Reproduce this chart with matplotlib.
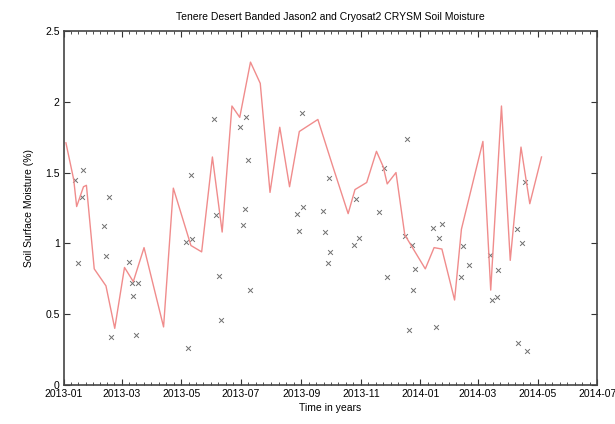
import numpy as np
import pandas as pd
import matplotlib
matplotlib.use('Agg')
import matplotlib.pyplot as plt
import matplotlib.dates as mdates

plt.rcParams['font.family'] = ['Liberation Sans', 'DejaVu Sans']

# Jason2 banded soil moisture (line)
line_dates = ['2013-01-03', '2013-01-07', '2013-01-11', '2013-01-14', '2013-01-18', '2013-01-21',
              '2013-01-24', '2013-02-01', '2013-02-13', '2013-02-22', '2013-03-04', '2013-03-13',
              '2013-03-24', '2013-04-13', '2013-04-23', '2013-05-11', '2013-05-22', '2013-06-02',
              '2013-06-12', '2013-06-22', '2013-06-30', '2013-07-11', '2013-07-21', '2013-07-31',
              '2013-08-10', '2013-08-20', '2013-08-30', '2013-09-18', '2013-10-03', '2013-10-19',
              '2013-10-26', '2013-11-07', '2013-11-17', '2013-11-24', '2013-11-28', '2013-12-07',
              '2013-12-16', '2014-01-06', '2014-01-15', '2014-01-23', '2014-02-05', '2014-02-12',
              '2014-03-06', '2014-03-14', '2014-03-25', '2014-04-03', '2014-04-14', '2014-04-23',
              '2014-05-05']
line_vals = [1.71, 1.58, 1.45, 1.26, 1.34, 1.40,
             1.41, 0.82, 0.70, 0.40, 0.83, 0.73,
             0.97, 0.41, 1.39, 0.985, 0.94, 1.61,
             1.08, 1.97, 1.89, 2.28, 2.13, 1.36,
             1.82, 1.40, 1.79, 1.875, 1.55, 1.21,
             1.38, 1.43, 1.65, 1.54, 1.42, 1.50,
             1.06, 0.82, 0.97, 0.96, 0.60, 1.10,
             1.72, 0.67, 1.97, 0.88, 1.68, 1.28,
             1.61]

# Cryosat2 CRYSM soil moisture (points)
pt_dates = ['2013-01-12', '2013-01-15', '2013-01-19', '2013-01-21', '2013-02-11', '2013-02-13',
            '2013-02-16', '2013-02-18', '2013-03-09', '2013-03-12', '2013-03-13', '2013-03-16',
            '2013-03-18', '2013-05-06', '2013-05-08', '2013-05-11', '2013-05-12', '2013-06-04',
            '2013-06-06', '2013-06-09', '2013-06-11', '2013-06-30', '2013-07-03', '2013-07-05',
            '2013-07-06', '2013-07-08', '2013-07-10', '2013-08-28', '2013-08-30', '2013-09-02',
            '2013-09-03', '2013-09-23', '2013-09-25', '2013-09-28', '2013-09-29', '2013-09-30',
            '2013-10-25', '2013-10-27', '2013-10-30', '2013-11-20', '2013-11-25', '2013-11-28',
            '2013-12-16', '2013-12-18', '2013-12-20', '2013-12-23', '2013-12-24', '2013-12-26',
            '2014-01-14', '2014-01-17', '2014-01-20', '2014-01-23', '2014-02-12', '2014-02-14',
            '2014-02-20', '2014-03-13', '2014-03-15', '2014-03-20', '2014-03-21', '2014-04-10',
            '2014-04-11', '2014-04-15', '2014-04-18', '2014-04-20']
pt_vals = [1.45, 0.86, 1.33, 1.52, 1.12, 0.91,
           1.33, 0.34, 0.87, 0.72, 0.63, 0.35,
           0.72, 1.01, 0.26, 1.48, 1.03, 1.88,
           1.20, 0.77, 0.46, 1.82, 1.13, 1.24,
           1.89, 1.59, 0.67, 1.21, 1.09, 1.92,
           1.26, 1.23, 1.08, 0.86, 1.46, 0.94,
           0.99, 1.31, 1.04, 1.22, 1.53, 0.76,
           1.05, 1.74, 0.39, 0.99, 0.67, 0.82,
           1.11, 0.41, 1.04, 1.14, 0.76, 0.98,
           0.85, 0.915, 0.60, 0.62, 0.81, 1.10,
           0.30, 1.00, 1.43, 0.24]

y_ticks = [0, 0.5, 1, 1.5, 2, 2.5]
y_labels = ['0', '0.5', '1', '1.5', '2', '2.5']

fig = plt.figure(figsize=(6.15, 4.24), dpi=100)
ax = fig.add_axes([0.104, 0.092, 0.867, 0.835])

ax.plot(pd.to_datetime(line_dates), line_vals, color='#f08c8c', lw=1.0)
ax.scatter(pd.to_datetime(pt_dates), pt_vals, marker='x', s=12, color='#707070', linewidths=0.7)

ax.set_xlim(pd.Timestamp('2013-01-01'), pd.Timestamp('2014-07-01'))
ax.set_ylim(0, 2.5)

majors = pd.date_range('2013-01-01', '2014-07-01', freq='2MS')
minors = []
for a, b in zip(majors[:-1], majors[1:]):
    minors += list(pd.date_range(a, b, periods=9)[1:-1])
ax.set_xticks(majors)
ax.set_xticks(minors, minor=True)
ax.xaxis.set_major_formatter(mdates.DateFormatter('%Y-%m'))
ax.set_yticks(y_ticks)
ax.set_yticklabels(y_labels)

ax.tick_params(which='both', direction='in', top=True, right=True, labelsize=7.5, pad=3, color='#333333')
ax.tick_params(which='major', length=4, width=0.8)
ax.tick_params(which='minor', length=2, width=0.6)
for s in ax.spines.values():
    s.set_linewidth(1.2)
    s.set_color('#444444')

ax.set_title('Tenere Desert Banded Jason2 and Cryosat2 CRYSM Soil Moisture', fontsize=7.5, pad=8)
ax.set_xlabel('Time in years', fontsize=7.5, labelpad=3)
ax.set_ylabel('Soil Surface Moisture (%)', fontsize=7.5, labelpad=8)

fig.savefig('out.png', dpi=100)
